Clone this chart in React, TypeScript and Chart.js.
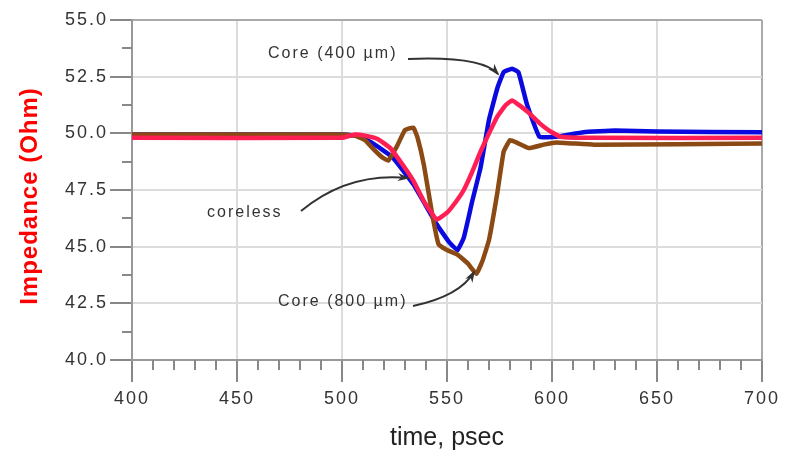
import React, { useEffect, useRef } from "react";
import { Chart, registerables } from "chart.js";

Chart.register(...registerables);

// Time axis (psec) and impedance values (Ohm)
const corelessTime = [400, 500, 506, 511, 517, 523, 529, 534, 539, 545, 550, 554, 558, 562, 566, 570, 574, 578, 581, 585, 589, 594, 599, 604, 620, 700];
const corelessZ = [49.8, 49.8, 49.95, 49.9, 49.75, 49.35, 48.6, 47.9, 47.0, 46.2, 46.5, 46.95, 47.5, 48.3, 49.2, 50.0, 50.75, 51.25, 51.45, 51.2, 50.9, 50.45, 50.1, 49.85, 49.8, 49.8];

const core400Time = [400, 500, 507, 514, 524, 534, 545, 551, 555, 558, 562, 566, 570, 574, 577, 581, 584, 588, 594, 602, 615, 630, 650, 700];
const core400Z = [49.95, 49.95, 49.9, 49.6, 48.95, 47.75, 46.0, 45.2, 44.85, 45.4, 47.0, 48.5, 50.6, 52.0, 52.7, 52.85, 52.7, 51.3, 49.85, 49.85, 50.05, 50.12, 50.08, 50.05];

const core800Time = [400, 500, 506, 511, 515, 519, 522, 526, 530, 534, 536, 539, 543, 546, 550, 555, 560, 564, 567, 570, 574, 577, 580, 583, 589, 596, 602, 620, 700];
const core800Z = [49.95, 49.95, 49.9, 49.7, 49.3, 48.95, 48.8, 49.4, 50.15, 50.25, 49.8, 48.6, 46.4, 45.1, 44.85, 44.65, 44.25, 43.8, 44.4, 45.3, 47.4, 49.2, 49.7, 49.6, 49.35, 49.5, 49.6, 49.5, 49.55];

const xMin = 400, xMax = 700, xStep = 50, xMinorStep = 10;
const yMin = 40, yMax = 55, yStep = 2.5, yMinorStep = 1.25;

const xTitle = "time, psec";
const yTitle = "Impedance (Ohm)";

const labels = [
  { text: "Core (400 \u00b5m)", x: 268, y: 54 },
  { text: "coreless", x: 207, y: 213 },
  { text: "Core (800 \u00b5m)", x: 278, y: 302 },
];
const arrows = [
  { sx: 408, sy: 59, cx: 482, cy: 56, ex: 498, ey: 74 },
  { sx: 301, sy: 211, cx: 348, cy: 172, ex: 408, ey: 178 },
  { sx: 413, sy: 306, cx: 460, cy: 296, ex: 474, ey: 272 },
];

const toPts = (xs: number[], ys: number[]) => xs.map((x, i) => ({ x, y: ys[i] }));

const decor = {
  id: "decor",
  beforeDraw(chart: any) {
    chart.ctx.letterSpacing = "2px";
  },
  afterDraw(chart: any) {
    const { ctx, chartArea, scales } = chart;
    const xs = scales.x, ys = scales.y;
    ctx.save();
    // minor ticks
    ctx.strokeStyle = "#888";
    ctx.lineWidth = 2;
    ctx.beginPath();
    for (let v = xMin; v <= xMax + 1e-6; v += xMinorStep) {
      if (Math.abs(v % xStep) < 1e-6) continue;
      const px = Math.round(xs.getPixelForValue(v));
      ctx.moveTo(px, chartArea.bottom);
      ctx.lineTo(px, chartArea.bottom + 10);
    }
    for (let v = yMin; v <= yMax + 1e-6; v += yMinorStep) {
      if (Math.abs((v - yMin) % yStep) < 1e-6) continue;
      const py = Math.round(ys.getPixelForValue(v));
      ctx.moveTo(chartArea.left, py);
      ctx.lineTo(chartArea.left - 10, py);
    }
    ctx.stroke();

    // axis titles
    ctx.letterSpacing = "0px";
    ctx.fillStyle = "#222";
    ctx.font = "25px 'Liberation Sans', Arial, sans-serif";
    ctx.textAlign = "center";
    ctx.textBaseline = "middle";
    ctx.fillText(xTitle, (chartArea.left + chartArea.right) / 2, 438);

    ctx.save();
    ctx.translate(30, 196);
    ctx.rotate(-Math.PI / 2);
    ctx.fillStyle = "#ff0000";
    ctx.letterSpacing = "1px";
    ctx.font = "bold 24px 'Liberation Sans', Arial, sans-serif";
    ctx.fillText(yTitle, 0, 0);
    ctx.restore();

    // annotations
    ctx.letterSpacing = "2px";
    ctx.font = "16px 'Liberation Sans', Arial, sans-serif";
    ctx.fillStyle = "#333";
    ctx.textAlign = "left";
    labels.forEach((l) => ctx.fillText(l.text, l.x, l.y));

    ctx.strokeStyle = "#333";
    ctx.lineWidth = 2;
    arrows.forEach((a) => {
      ctx.beginPath();
      ctx.moveTo(a.sx, a.sy);
      ctx.quadraticCurveTo(a.cx, a.cy, a.ex, a.ey);
      ctx.stroke();
      const ang = Math.atan2(a.ey - a.cy, a.ex - a.cx);
      const L = 11, W = 0.38;
      ctx.beginPath();
      ctx.moveTo(a.ex + 2 * Math.cos(ang), a.ey + 2 * Math.sin(ang));
      ctx.lineTo(a.ex - L * Math.cos(ang - W), a.ey - L * Math.sin(ang - W));
      ctx.lineTo(a.ex - 0.6 * L * Math.cos(ang), a.ey - 0.6 * L * Math.sin(ang));
      ctx.lineTo(a.ex - L * Math.cos(ang + W), a.ey - L * Math.sin(ang + W));
      ctx.closePath();
      ctx.fillStyle = "#333";
      ctx.fill();
    });
    ctx.restore();
  },
};

export default function App() {
  const ref = useRef<HTMLCanvasElement | null>(null);
  useEffect(() => {
    if (!ref.current) return;
    const tickFont = { family: "'Liberation Sans', Arial, sans-serif", size: 18 };
    const chart = new Chart(ref.current, {
      type: "line",
      data: {
        datasets: [
          { label: "coreless", data: toPts(corelessTime, corelessZ), borderColor: "#ff1f55", borderWidth: 4.5, pointRadius: 0, tension: 0.1 },
          { label: "Core (800 \u00b5m)", data: toPts(core800Time, core800Z), borderColor: "#8b4a14", borderWidth: 4.5, pointRadius: 0, tension: 0.1 },
          { label: "Core (400 \u00b5m)", data: toPts(core400Time, core400Z), borderColor: "#0a0ae0", borderWidth: 4.5, pointRadius: 0, tension: 0.1 },
        ],
      },
      options: {
        animation: false,
        responsive: false,
        layout: { padding: { top: 20, right: 24, left: 0, bottom: 0 } },
        plugins: { legend: { display: false }, tooltip: { enabled: false } },
        scales: {
          x: {
            type: "linear",
            min: xMin,
            max: xMax,
            ticks: { stepSize: xStep, font: tickFont, color: "#333", padding: 6 },
            grid: {
              color: (c: any) => (c.tick && c.tick.value === xMax ? "#aaa" : "#dcdcdc"),
              lineWidth: 2,
              tickLength: 22,
              tickColor: "#888",
              tickWidth: 2,
            },
            border: { color: "#999", width: 2 },
            afterFit: (s: any) => { s.height = 99; },
          },
          y: {
            type: "linear",
            min: yMin,
            max: yMax,
            ticks: { stepSize: yStep, font: tickFont, color: "#333", padding: 2, callback: (v: any) => Number(v).toFixed(1) },
            grid: {
              color: (c: any) => (c.tick && c.tick.value === yMax ? "#aaa" : "#dcdcdc"),
              lineWidth: 2,
              tickLength: 22,
              tickColor: "#888",
              tickWidth: 2,
            },
            border: { color: "#999", width: 2 },
            afterFit: (s: any) => { s.width = 132; },
          },
        },
      },
      plugins: [decor],
    });
    return () => chart.destroy();
  }, []);
  return (
    <canvas
      ref={ref}
      width={786}
      height={459}
      style={{ position: "fixed", left: 0, top: 0, width: 786, height: 459, background: "#fff" }}
    />
  );
}
